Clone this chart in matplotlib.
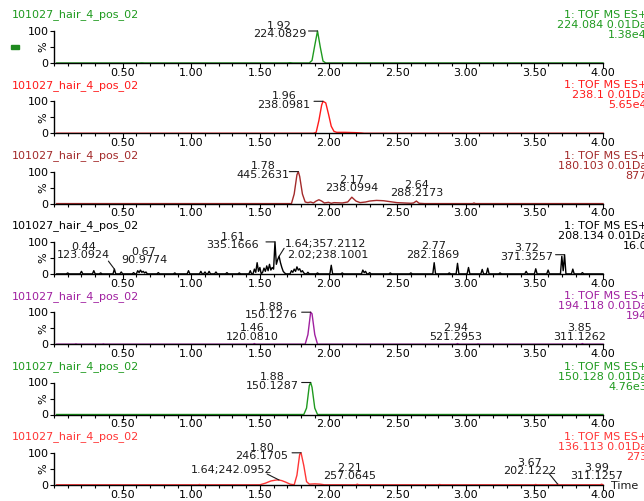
import matplotlib
matplotlib.use('Agg')
import matplotlib.pyplot as plt
from matplotlib.patches import Rectangle
from matplotlib.ticker import MultipleLocator
import numpy as np

plt.rcParams['font.family'] = 'DejaVu Sans'
plt.rcParams['font.size'] = 8

W, H = 644, 501
sample = '101027_hair_4_pos_02'

# ---- traces (time, % intensity) ----
pts_224 = [(0.02, 0), (0.62, 0), (0.64, 0.5), (0.66, 0), (1.70, 0), (1.72, 1), (1.74, 0),
           (1.86, 0), (1.88, 8), (1.90, 55), (1.92, 100), (1.94, 50), (1.96, 6), (1.98, 0), (4.00, 0)]

pts_238 = [(0.02, 0), (1.89, 0), (1.91, 3), (1.93, 40), (1.95, 88), (1.96, 100), (1.98, 95),
           (2.00, 60), (2.02, 22), (2.04, 6), (2.06, 3), (2.12, 3), (2.20, 2), (2.24, 1),
           (2.26, 0), (4.00, 0)]

pts_180 = [(0.02, 0), (1.73, 0), (1.75, 30), (1.77, 90), (1.78, 100), (1.79, 85), (1.81, 30),
           (1.83, 5), (1.85, 3), (1.87, 5), (1.89, 2), (1.91, 8), (1.93, 12), (1.95, 8),
           (1.97, 2), (2.00, 4), (2.02, 1), (2.04, 3), (2.10, 2), (2.14, 5), (2.17, 20),
           (2.20, 8), (2.23, 3), (2.27, 5), (2.30, 8), (2.35, 10), (2.40, 9), (2.45, 6),
           (2.50, 3), (2.55, 2), (2.60, 1), (2.62, 2), (2.64, 8), (2.66, 1), (2.70, 0),
           (3.05, 0), (3.06, 2), (3.07, 0), (4.00, 0)]

pts_208 = [(0.02, 0),
           (0.09, 0), (0.10, 3), (0.11, 0),
           (0.19, 0), (0.20, 8), (0.21, 0),
           (0.28, 0), (0.29, 10), (0.30, 0),
           (0.33, 0), (0.34, 3), (0.35, 0),
           (0.43, 0), (0.44, 15), (0.45, 0),
           (0.48, 0), (0.49, 6), (0.50, 0),
           (0.57, 0), (0.58, 4), (0.59, 0),
           (0.60, 0), (0.61, 10), (0.62, 4), (0.63, 12), (0.64, 5), (0.65, 8), (0.66, 3),
           (0.67, 6), (0.68, 0),
           (0.75, 0), (0.76, 4), (0.77, 0),
           (0.87, 0), (0.88, 3), (0.89, 0),
           (0.97, 0), (0.98, 10), (0.99, 0),
           (1.06, 0), (1.07, 8), (1.08, 0),
           (1.09, 0), (1.10, 6), (1.11, 0),
           (1.12, 0), (1.13, 8), (1.14, 0),
           (1.17, 0), (1.18, 6), (1.19, 0),
           (1.25, 0), (1.26, 4), (1.27, 0),
           (1.34, 0), (1.35, 3), (1.36, 0),
           (1.42, 0), (1.43, 10), (1.44, 0),
           (1.45, 0), (1.46, 15), (1.47, 5), (1.48, 35), (1.49, 8), (1.50, 20), (1.51, 0),
           (1.52, 5), (1.53, 18), (1.54, 8), (1.55, 25), (1.56, 10), (1.57, 30), (1.58, 12),
           (1.59, 20), (1.60, 15), (1.61, 100), (1.62, 30), (1.63, 45), (1.64, 55),
           (1.65, 35), (1.66, 20), (1.67, 8), (1.68, 3), (1.69, 0),
           (1.72, 0), (1.73, 10), (1.74, 5), (1.75, 15), (1.76, 8), (1.77, 22), (1.78, 12),
           (1.79, 16), (1.80, 6), (1.81, 10), (1.82, 3), (1.83, 0),
           (1.84, 0), (1.85, 5), (1.86, 0),
           (1.91, 0), (1.92, 3), (1.93, 0),
           (2.01, 0), (2.02, 27), (2.03, 0),
           (2.09, 0), (2.10, 3), (2.11, 0),
           (2.24, 0), (2.25, 12), (2.26, 4), (2.27, 8), (2.28, 0),
           (2.29, 0), (2.30, 4), (2.31, 0),
           (2.44, 0), (2.45, 3), (2.46, 0),
           (2.59, 0), (2.60, 3), (2.61, 0),
           (2.76, 0), (2.77, 35), (2.78, 0),
           (2.87, 0), (2.88, 3), (2.89, 0),
           (2.93, 0), (2.94, 33), (2.95, 0),
           (3.01, 0), (3.02, 20), (3.03, 0),
           (3.11, 0), (3.12, 14), (3.13, 0),
           (3.15, 0), (3.16, 18), (3.17, 0),
           (3.24, 0), (3.25, 3), (3.26, 0),
           (3.43, 0), (3.44, 8), (3.45, 0),
           (3.50, 0), (3.51, 16), (3.52, 0),
           (3.59, 0), (3.60, 12), (3.61, 0),
           (3.69, 0), (3.70, 55), (3.71, 10), (3.72, 60), (3.73, 0),
           (3.77, 0), (3.78, 15), (3.79, 0),
           (3.84, 0), (3.85, 4), (3.86, 0),
           (4.00, 0)]

pts_194 = [(0.02, 0), (0.15, 0), (0.16, 1), (0.17, 0), (0.35, 0), (0.36, 1), (0.37, 0),
           (1.45, 0), (1.46, 2), (1.47, 0), (1.83, 0), (1.85, 30), (1.87, 100), (1.88, 95),
           (1.90, 30), (1.92, 0), (2.93, 0), (2.94, 2), (2.95, 0), (3.08, 0), (3.09, 1),
           (3.10, 0), (3.84, 0), (3.85, 2), (3.86, 0), (4.00, 0)]

pts_150 = [(0.02, 0), (1.82, 0), (1.84, 20), (1.86, 90), (1.87, 100), (1.88, 85),
           (1.90, 20), (1.92, 0), (4.00, 0)]

pts_136 = [(0.02, 0), (1.05, 0), (1.06, 1), (1.07, 0), (1.50, 0), (1.54, 5), (1.58, 12),
           (1.62, 15), (1.64, 15), (1.66, 13), (1.69, 8), (1.72, 2), (1.75, 0), (1.77, 30),
           (1.79, 95), (1.80, 100), (1.82, 60), (1.84, 10), (1.86, 2), (1.90, 3), (1.94, 2),
           (1.97, 0), (2.20, 0), (2.21, 2), (2.22, 0), (2.80, 0), (2.81, 1), (2.82, 0),
           (3.50, 0), (3.51, 1), (3.52, 0), (3.66, 0), (3.67, 2), (3.68, 0), (3.98, 0),
           (3.99, 2), (4.00, 0)]

# peak labels: (text, anchor time)
peaks_224 = [('1.92\n224.0829', 1.92)]
peaks_238 = [('1.96\n238.0981', 1.96)]
peaks_180 = [('1.78\n445.2631', 1.78), ('2.17\n238.0994', 2.17), ('2.64\n288.2173', 2.64)]
peaks_208 = [('0.44\n123.0924', 0.44), ('0.67\n90.9774', 0.67), ('1.61\n335.1666', 1.61),
             ('1.64;357.2112', 1.64), ('2.02;238.1001', 2.02), ('2.77\n282.1869', 2.77),
             ('3.72\n371.3257', 3.72)]
peaks_194 = [('1.88\n150.1276', 1.87), ('1.46\n120.0810', 1.46), ('2.94\n521.2953', 2.94),
             ('3.85\n311.1262', 3.85)]
peaks_150 = [('1.88\n150.1287', 1.87)]
peaks_136 = [('1.80\n246.1705', 1.80), ('1.64;242.0952', 1.64), ('2.21\n257.0645', 2.21),
             ('3.67\n202.1222', 3.67), ('3.99\n311.1257', 3.99)]

channels = ['224.084 0.01Da', '238.1 0.01Da', '180.103 0.01Da', '208.134 0.01Da',
            '194.118 0.01Da', '150.128 0.01Da', '136.113 0.01Da']
intensities = ['1.38e4', '5.65e4', '877', '16.0', '194', '4.76e3', '273']

# ---- layout: label offsets in pixels (dx, dy) and leader type ----
lay_224 = [(-38, 1, 'bracket')]
lay_238 = [(-39, 1, 'bracket')]
lay_180 = [(-35, 1, 'bracket'), (0, 13, None), (0, 12, None)]
lay_208 = [(-31, 18, ('diag', -6, 8)), (-2, 16, None), (-42, 1, 'bracket'),
           (46, 12, ('diag', 5, 8)), (-3, 10, None), (-1, 12, None), (-38, 2, 'bracket')]
lay_194 = [(-39, 1, 'bracket'), (-2, 11, None), (-2, 11, None), (-3, 11, None)]
lay_150 = [(-38, 1, 'bracket')]
lay_136 = [(-39, 1, 'bracket'), (-47, 10, ('diag', -12, 6)), (-8, 12, None),
           (-28, 17, ('diag', -9, 11)), (-5, 12, None)]

panels = [
    (pts_224, peaks_224, lay_224, '#1f9a1f'),
    (pts_238, peaks_238, lay_238, '#ff1a1a'),
    (pts_180, peaks_180, lay_180, '#a32a2a'),
    (pts_208, peaks_208, lay_208, '#000000'),
    (pts_194, peaks_194, lay_194, '#a020a0'),
    (pts_150, peaks_150, lay_150, '#1f9a1f'),
    (pts_136, peaks_136, lay_136, '#ff3535'),
]

fig = plt.figure(figsize=(W / 100, H / 100), dpi=100)


def fx(px):
    return px / W


def fy(py):
    return 1 - py / H


X0, X1 = 54, 603
pitch = 70.3
lbl_col = '#1a1a1a'

for k, (pts, peaks, lay, col) in enumerate(panels):
    zero = 63 + k * pitch
    ax = fig.add_axes([fx(X0), fy(zero), fx(X1) - fx(X0), 32 / H])
    t, inten = np.array(pts).T
    ax.plot(t, inten, color=col, lw=1.0, clip_on=False)
    ax.set_xlim(0, 4.0)
    ax.set_ylim(0, 100)
    ax.patch.set_visible(False)
    for s in ['top', 'right']:
        ax.spines[s].set_visible(False)
    for s in ['left', 'bottom']:
        ax.spines[s].set_linewidth(1.0)
    ax.set_xticks([0.5, 1.0, 1.5, 2.0, 2.5, 3.0, 3.5, 4.0])
    ax.set_xticklabels(['0.50', '1.00', '1.50', '2.00', '2.50', '3.00', '3.50', '4.00'])
    ax.xaxis.set_minor_locator(MultipleLocator(0.1))
    ax.set_yticks([0, 50, 100])
    ax.set_yticklabels(['0', '%', '100'])
    ax.get_yticklabels()[1].set_rotation(90)
    ax.get_yticklabels()[1].set_va('center')
    ax.tick_params(axis='x', which='major', length=3.5, width=0.8, pad=0, labelsize=8)
    ax.tick_params(axis='x', which='minor', length=2.2, width=0.8)
    ax.tick_params(axis='y', length=3, width=0.8, pad=1, labelsize=8)

    # sample name and channel header
    ty = zero - 48
    fig.text(fx(12), fy(ty), sample, color=col, va='center', ha='left')
    fig.text(fx(647), fy(ty), '1: TOF MS ES+', color=col, va='center', ha='right')
    fig.text(fx(647), fy(ty + 10), channels[k], color=col, va='center', ha='right')
    fig.text(fx(647), fy(ty + 20), intensities[k], color=col, va='center', ha='right')

    # peak annotations
    for (txt, ta), (dx, dy, lead) in zip(peaks, lay):
        h = np.interp(ta, t, inten)
        ax.annotate(txt, xy=(ta, h), xytext=(dx, dy), textcoords='offset pixels',
                    ha='center', va='center', linespacing=0.8, color=lbl_col,
                    fontsize=8, annotation_clip=False)
        if lead == 'bracket':
            ax.annotate('', xy=(ta, h), xytext=(-9, 0), textcoords='offset pixels',
                        arrowprops=dict(arrowstyle='-', lw=0.8, color=lbl_col,
                                        shrinkA=0, shrinkB=0), annotation_clip=False)
        elif lead is not None:
            ax.annotate('', xy=(ta, h), xytext=(lead[1], lead[2]), textcoords='offset pixels',
                        arrowprops=dict(arrowstyle='-', lw=0.8, color=lbl_col,
                                        shrinkA=0, shrinkB=0), annotation_clip=False)

    if k == len(panels) - 1:
        fig.text(fx(611), fy(zero + 1), 'Time', color=lbl_col, va='center', ha='left')

# small green marker next to the first trace
fig.patches.append(Rectangle((fx(11), fy(49)), 8 / W, 4 / H, transform=fig.transFigure,
                             color='#1f8a1f'))

fig.savefig('out.png', dpi=100)
